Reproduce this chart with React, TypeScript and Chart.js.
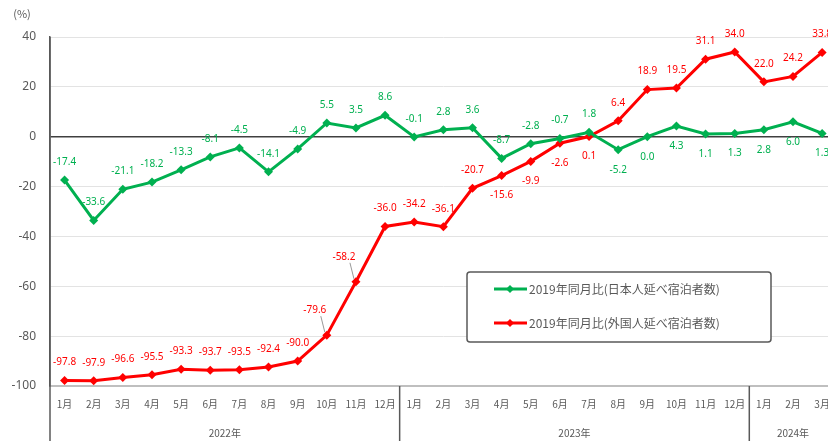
import React, { useEffect, useRef } from 'react';
import { Chart, registerables } from 'chart.js';

Chart.register(...registerables);

const monthNames = ['1月', '2月', '3月', '4月', '5月', '6月', '7月', '8月', '9月', '10月', '11月', '12月'];
const years = ['2022年', '2023年', '2024年'];
const yearSpans = [12, 12, 3];
const categories: string[] = yearSpans.flatMap((n) => monthNames.slice(0, n));

const japaneseLabel = '2019年同月比(日本人延べ宿泊者数)';
const foreignLabel = '2019年同月比(外国人延べ宿泊者数)';

const japanese = [
  -17.4, -33.6, -21.1, -18.2, -13.3, -8.1, -4.5, -14.1, -4.9, 5.5, 3.5, 8.6,
  -0.1, 2.8, 3.6, -8.7, -2.8, -0.7, 1.8, -5.2, 0.0, 4.3, 1.1, 1.3,
  2.8, 6.0, 1.3,
];
const foreign = [
  -97.8, -97.9, -96.6, -95.5, -93.3, -93.7, -93.5, -92.4, -90.0, -79.6, -58.2, -36.0,
  -34.2, -36.1, -20.7, -15.6, -9.9, -2.6, 0.1, 6.4, 18.9, 19.5, 31.1, 34.0,
  22.0, 24.2, 33.8,
];

// label placement: a = above, b = below, l = above-left with leader line
const japaneseLabelPos = [
  'a', 'a', 'a', 'a', 'a', 'a', 'a', 'a', 'a', 'a', 'a', 'a',
  'a', 'a', 'a', 'a', 'a', 'a', 'a', 'b', 'b', 'b', 'b', 'b',
  'b', 'b', 'b',
];
const foreignLabelPos = [
  'a', 'a', 'a', 'a', 'a', 'a', 'a', 'a', 'a', 'l', 'l', 'a',
  'a', 'a', 'a', 'b', 'b', 'b', 'b', 'a', 'a', 'a', 'a', 'a',
  'a', 'a', 'a',
];

const GREEN = '#00b050';
const RED = '#ff0000';
const GRAY = '#595959';
const FONT = '"Noto Sans", "Noto Sans CJK JP", sans-serif';
const JFONT = '"Noto Sans CJK JP", "Noto Sans", sans-serif';

function drawDiamond(ctx: CanvasRenderingContext2D, x: number, y: number, r: number, color: string) {
  ctx.beginPath();
  ctx.moveTo(x, y - r);
  ctx.lineTo(x + r, y);
  ctx.lineTo(x, y + r);
  ctx.lineTo(x - r, y);
  ctx.closePath();
  ctx.fillStyle = color;
  ctx.fill();
}

const overlayPlugin = {
  id: 'overlay',
  afterDatasetsDraw(chart: any) {
    const ctx: CanvasRenderingContext2D = chart.ctx;
    const area = chart.chartArea;
    const xs = chart.scales.x;
    ctx.save();

    // data labels
    ctx.font = `10px ${FONT}`;
    ctx.textAlign = 'center';
    ctx.textBaseline = 'middle';
    const sets = [
      { idx: 0, pos: japaneseLabelPos, color: GREEN },
      { idx: 1, pos: foreignLabelPos, color: RED },
    ];
    sets.forEach(({ idx, pos, color }) => {
      const meta = chart.getDatasetMeta(idx);
      const data = chart.data.datasets[idx].data as number[];
      meta.data.forEach((pt: any, i: number) => {
        const v = data[i];
        const text = v.toFixed(1);
        let lx = pt.x;
        let ly = pt.y - 18;
        if (pos[i] === 'b') ly = pt.y + 20;
        if (pos[i] === 'l') {
          lx = pt.x - 12;
          ly = pt.y - 25;
          ctx.strokeStyle = '#7f7f7f';
          ctx.lineWidth = 0.8;
          ctx.beginPath();
          ctx.moveTo(lx + 6, ly + 6);
          ctx.lineTo(pt.x - 2, pt.y - 3);
          ctx.stroke();
        }
        ctx.fillStyle = color;
        ctx.fillText(text, lx, ly);
      });
    });

    // axis unit
    ctx.fillStyle = GRAY;
    ctx.font = `11px ${JFONT}`;
    ctx.textAlign = 'center';
    ctx.fillText('(%)', 22, 14);

    // category group separators and year labels
    const bottom = chart.height;
    const bounds: number[] = [area.left];
    let acc = 0;
    yearSpans.forEach((n) => {
      acc += n;
      if (acc < categories.length) {
        bounds.push((xs.getPixelForValue(acc - 1) + xs.getPixelForValue(acc)) / 2);
      } else {
        bounds.push(area.right);
      }
    });
    ctx.strokeStyle = GRAY;
    ctx.lineWidth = 1.5;
    bounds.forEach((bx, i) => {
      if (i === bounds.length - 1) return;
      ctx.beginPath();
      ctx.moveTo(bx, i === 0 ? area.top : area.bottom);
      ctx.lineTo(bx, bottom);
      ctx.stroke();
    });
    ctx.font = `10px ${JFONT}`;
    ctx.fillStyle = GRAY;
    years.forEach((y, i) => {
      ctx.fillText(y, (bounds[i] + bounds[i + 1]) / 2, 433);
    });

    // legend box
    const lx0 = 467, ly0 = 272, lw = 304, lh = 70;
    ctx.fillStyle = '#ffffff';
    ctx.strokeStyle = GRAY;
    ctx.lineWidth = 1.5;
    ctx.beginPath();
    (ctx as any).roundRect(lx0, ly0, lw, lh, 3);
    ctx.fill();
    ctx.stroke();
    const items = [
      { label: chart.data.datasets[0].label, color: GREEN, y: 289 },
      { label: chart.data.datasets[1].label, color: RED, y: 323 },
    ];
    items.forEach((it) => {
      ctx.strokeStyle = it.color;
      ctx.lineWidth = 3;
      ctx.beginPath();
      ctx.moveTo(494, it.y);
      ctx.lineTo(527, it.y);
      ctx.stroke();
      drawDiamond(ctx, 510, it.y, 4, it.color);
      ctx.fillStyle = GRAY;
      ctx.font = `12px ${JFONT}`;
      ctx.textAlign = 'left';
      ctx.fillText(it.label, 529, it.y);
    });

    ctx.restore();
  },
};

export default function App() {
  const ref = useRef<HTMLCanvasElement>(null);
  useEffect(() => {
    if (!ref.current) return;
    const chart = new Chart(ref.current, {
      type: 'line',
      data: {
        labels: categories,
        datasets: [
          {
            label: japaneseLabel,
            data: japanese,
            borderColor: GREEN,
            backgroundColor: GREEN,
            borderWidth: 3,
            pointStyle: 'rectRot',
            pointRadius: 4.5,
            pointBorderWidth: 0,
            tension: 0,
          },
          {
            label: foreignLabel,
            data: foreign,
            borderColor: RED,
            backgroundColor: RED,
            borderWidth: 3,
            pointStyle: 'rectRot',
            pointRadius: 4.5,
            pointBorderWidth: 0,
            tension: 0,
          },
        ],
      },
      options: {
        animation: false,
        responsive: false,
        devicePixelRatio: 1,
        layout: { padding: { top: 37, left: 0, right: 2, bottom: 0 } },
        plugins: { legend: { display: false }, tooltip: { enabled: false } },
        scales: {
          x: {
            type: 'category',
            offset: true,
            grid: { display: false, drawTicks: false },
            border: { display: true, color: '#bfbfbf', width: 2 },
            ticks: {
              color: GRAY,
              font: { size: 10, family: JFONT },
              padding: 12,
              maxRotation: 0,
              autoSkip: false,
            },
            afterFit: (s: any) => {
              s.height = 55;
            },
          },
          y: {
            min: -100,
            max: 40,
            ticks: {
              stepSize: 20,
              color: GRAY,
              font: { size: 12, family: FONT },
              padding: 14,
            },
            grid: {
              drawTicks: false,
              color: (c: any) => (c.tick && c.tick.value === 0 ? '#404040' : c.tick && c.tick.value === -100 ? '#bfbfbf' : '#e3e3e3'),
              lineWidth: (c: any) => (c.tick && (c.tick.value === 0 || c.tick.value === -100) ? 1.5 : 1),
            },
            border: { display: true, color: GRAY, width: 1.5 },
            afterFit: (s: any) => {
              s.width = 50;
            },
          },
        },
      },
      plugins: [overlayPlugin],
    });
    return () => chart.destroy();
  }, []);
  return (
    <div style={{ position: 'fixed', left: 0, top: 0, width: 828, height: 441, overflow: 'hidden', background: '#fff' }}>
      <canvas ref={ref} width={842} height={441} style={{ display: 'block', width: 842, height: 441 }} />
    </div>
  );
}
